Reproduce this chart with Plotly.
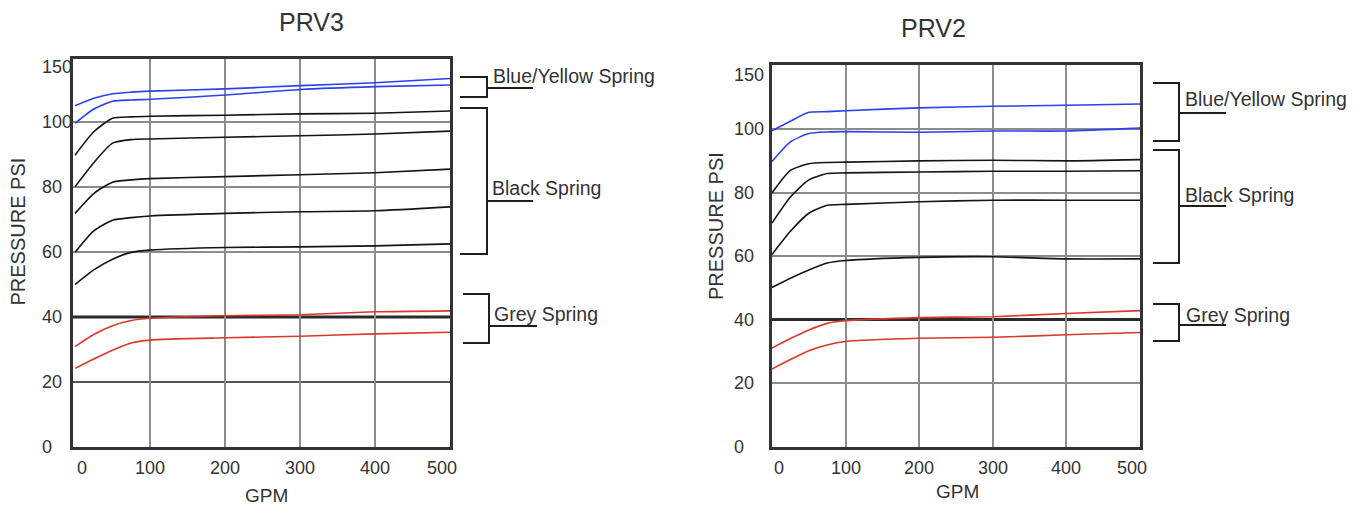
import plotly.graph_objects as go

# ── Data ──────────────────────────────────────────────────────────────────────

GPM = [0, 25, 50, 75, 100, 200, 300, 400, 500]

# PRV3
PRV3_BLUE = [
    [105.0, 107.3, 108.7, 109.2, 109.5, 110.2, 111.2, 112.1, 113.4],
    [99.6, 104.0, 106.4, 106.8, 107.0, 108.3, 110.0, 110.9, 111.4],
]
PRV3_BLACK = [
    [89.8, 97.0, 101.2, 101.6, 101.8, 102.1, 102.5, 102.7, 103.4],
    [80.1, 87.5, 93.5, 94.6, 94.8, 95.3, 95.8, 96.3, 97.2],
    [71.9, 78.0, 81.5, 82.2, 82.6, 83.2, 83.8, 84.4, 85.5],
    [59.9, 66.5, 69.8, 70.6, 71.1, 71.9, 72.4, 72.7, 73.9],
    [50.0, 54.5, 57.8, 59.9, 60.6, 61.4, 61.6, 61.9, 62.5],
]
PRV3_RED = [
    [30.9, 34.6, 37.3, 38.9, 39.6, 40.4, 40.7, 41.6, 41.9],
    [24.2, 27.1, 29.8, 32.0, 32.9, 33.6, 34.1, 34.8, 35.3],
]

# PRV2
PRV2_BLUE = [
    [99.5, 102.5, 105.3, 105.5, 105.8, 106.7, 107.2, 107.5, 107.9],
    [89.8, 96.0, 98.6, 99.1, 99.2, 99.0, 99.4, 99.4, 100.3],
]
PRV2_BLACK = [
    [79.9, 87.0, 89.1, 89.5, 89.6, 90.0, 90.2, 90.0, 90.4],
    [70.4, 78.6, 84.0, 86.0, 86.2, 86.5, 86.7, 86.7, 86.9],
    [60.5, 67.8, 73.5, 76.0, 76.3, 77.1, 77.6, 77.6, 77.6],
    [50.1, 53.0, 55.6, 57.8, 58.6, 59.6, 59.8, 59.1, 59.1],
]
PRV2_RED = [
    [31.0, 34.0, 36.7, 38.8, 39.6, 40.6, 40.9, 41.9, 42.8],
    [24.4, 27.4, 30.2, 32.0, 33.1, 34.1, 34.4, 35.2, 35.9],
]

X_TICKS = [0, 100, 200, 300, 400, 500]
Y_TICKS = [0, 20, 40, 60, 80, 100, 117]
Y_TICK_TEXT = ["0", "20", "40", "60", "80", "100", "150"]

SPRING_LABELS = ["Blue/Yellow Spring", "Black Spring", "Grey Spring"]

# ── Styling ───────────────────────────────────────────────────────────────────

W, H = 1366, 508
PAGE_MARGIN = 8  # default <body> margin the figure sits inside
BLUE, BLACK, RED = "#2a40f2", "#141414", "#d9392b"
TEXT = "#333333"
FONT = "Liberation Sans, Arial, sans-serif"


def px(x):
    return (x - PAGE_MARGIN) / W


def py(y):
    return 1 - (y - PAGE_MARGIN) / H


fig = go.Figure()

panels = [
    # (xaxis, yaxis, blue, black, red)
    ("x", "y", PRV3_BLUE, PRV3_BLACK, PRV3_RED),
    ("x2", "y2", PRV2_BLUE, PRV2_BLACK, PRV2_RED),
]

for xa, ya, blues, blacks, reds in panels:
    for series, color in ((blues, BLUE), (blacks, BLACK), (reds, RED)):
        for ys in series:
            fig.add_trace(go.Scatter(
                x=GPM, y=ys, xaxis=xa, yaxis=ya, mode="lines",
                line=dict(color=color, width=1.6, shape="spline", smoothing=0.6),
                showlegend=False, hoverinfo="skip",
            ))

axis_common = dict(
    showline=True, mirror=True, linecolor="#333333", linewidth=3,
    showgrid=True, gridcolor="#8c8c8c", gridwidth=2,
    zeroline=False, showticklabels=False, ticks="", fixedrange=True,
)

# grey grid only at the inner values; 40 (and 20 on PRV3) are drawn as dark shapes
fig.update_layout(
    width=W, height=H,
    margin=dict(l=0, r=0, t=0, b=0),
    paper_bgcolor="white", plot_bgcolor="white",
    font=dict(family=FONT, color=TEXT),
    xaxis=dict(domain=[px(73), px(450)], range=[-2.7, 500], anchor="y",
               tickvals=X_TICKS[1:-1], **axis_common),
    yaxis=dict(domain=[py(447), py(59)], range=[0, 119.4], anchor="x",
               tickvals=[60, 80, 100], **axis_common),
    xaxis2=dict(domain=[px(772), px(1140)], range=[0, 500], anchor="y2",
                tickvals=X_TICKS[1:-1], **axis_common),
    yaxis2=dict(domain=[py(446.5), py(65)], range=[0, 120.2], anchor="x2",
                tickvals=[20, 60, 80, 100], **axis_common),
)

shapes = []
for xd, ya in (("x domain", "y"), ("x2 domain", "y2")):
    shapes.append(dict(type="line", xref=xd, yref=ya, x0=0, x1=1, y0=40, y1=40,
                       line=dict(color="#2b2b2b", width=3), layer="below"))
shapes.append(dict(type="line", xref="x domain", yref="y", x0=0, x1=1, y0=20, y1=20,
                   line=dict(color="#1a1a1a", width=1.5), layer="below"))


def bracket(x0, xv, xm, ytop, ybot, ymid):
    path = (f"M {px(x0)} {py(ytop)} L {px(xv)} {py(ytop)} L {px(xv)} {py(ybot)} "
            f"L {px(x0)} {py(ybot)} M {px(xv)} {py(ymid)} L {px(xm)} {py(ymid)}")
    return dict(type="path", xref="paper", yref="paper", path=path,
                line=dict(color="#1e1e1e", width=2))


shapes += [
    bracket(460, 487, 533, 77, 97, 88),
    bracket(460, 487, 533, 108, 254, 201),
    bracket(463, 489, 537, 294, 343, 326),
    bracket(1153, 1179, 1226, 83, 141, 113),
    bracket(1153, 1179, 1226, 150, 263, 206),
    bracket(1153, 1179, 1226, 304, 341, 325),
]
fig.update_layout(shapes=shapes)

ann = []


def text(x, y, s, size, xanchor="center", **kw):
    ann.append(dict(x=px(x), y=py(y), xref="paper", yref="paper", text=s,
                    xanchor=xanchor, yanchor="middle", showarrow=False,
                    font=dict(size=size, color=TEXT), **kw))


# titles
text(311, 22, "PRV3", 25)
text(933, 28, "PRV2", 25)
# axis titles
text(17.5, 232, "PRESSURE PSI", 20, textangle=-90)
text(716, 226, "PRESSURE PSI", 20, textangle=-90)
text(266, 495, "GPM", 19)
text(957, 491, "GPM", 19)
# spring labels
for (x, y), s in zip([(491, 76), (490, 188), (492, 314)], SPRING_LABELS):
    text(x, y, s, 19.5, xanchor="left")
for (x, y), s in zip([(1183, 99), (1183, 195), (1184, 315)], SPRING_LABELS):
    text(x, y, s, 19.5, xanchor="left")

# tick labels, left aligned like the original
for xref, yref, lx, ty in (("x", "y", 40, 468), ("x2", "y2", 732, 468)):
    for v, t in zip(Y_TICKS, Y_TICK_TEXT):
        ann.append(dict(x=px(lx), y=v, xref="paper", yref=yref, text=t,
                        xanchor="left", yanchor="middle",
                        showarrow=False, font=dict(size=18, color=TEXT)))
    for v in X_TICKS:
        shift = 7 if v == X_TICKS[0] else (-8 if v == X_TICKS[-1] else 0)
        ann.append(dict(x=v, y=py(ty), xref=xref, yref="paper", text=str(v), xshift=shift,
                        xanchor="center", yanchor="middle",
                        showarrow=False, font=dict(size=18, color=TEXT)))

fig.update_layout(annotations=ann)

fig.write_html("out.html")
